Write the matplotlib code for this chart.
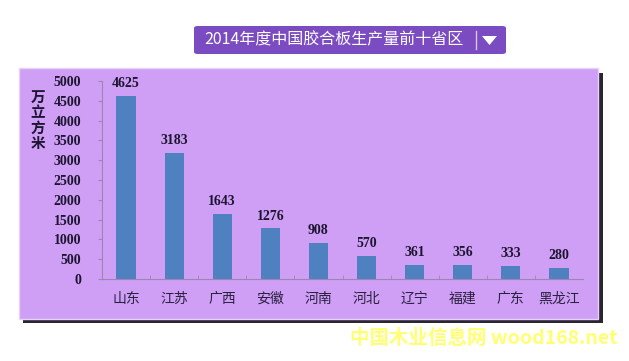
import matplotlib
matplotlib.use("Agg")
import matplotlib.pyplot as plt
from matplotlib.patches import Rectangle, FancyBboxPatch, Polygon

plt.rcParams['font.family'] = ['Noto Sans CJK SC', 'DejaVu Sans']

provinces = ["山东", "江苏", "广西", "安徽", "河南", "河北", "辽宁", "福建", "广东", "黑龙江"]
output = [4625, 3183, 1643, 1276, 908, 570, 361, 356, 333, 280]
yticks = [0, 500, 1000, 1500, 2000, 2500, 3000, 3500, 4000, 4500, 5000]
title = "2014年度中国胶合板生产量前十省区"
ylabel = "万\n立\n方\n米"
watermark = "中国木业信息网 wood168.net"

W, H = 629, 361
fig = plt.figure(figsize=(W / 100, H / 100), dpi=100)
fig.patch.set_facecolor("white")


def fx(px):
    return px / W


def fy(py):
    return 1 - py / H


# purple panel with dark shadow
fig.patches.append(Rectangle((fx(23), fy(323)), fx(580), 250 / H, transform=fig.transFigure,
                             facecolor="#2a2433", edgecolor="none", zorder=0))
fig.patches.append(Rectangle((fx(19), fy(319)), fx(579), 251 / H, transform=fig.transFigure,
                             facecolor="#cf9ff6", edgecolor="#e6d2f7", linewidth=1, zorder=0))

# title box
fig.patches.append(FancyBboxPatch((fx(194), fy(54)), fx(312), 28 / H, transform=fig.transFigure,
                                  boxstyle="round,pad=0,rounding_size=0.006",
                                  facecolor="#7b4cc1", edgecolor="none", zorder=1))
fig.text(fx(334), fy(40), title, color="white", fontsize=11.5, ha="center", va="center")
fig.add_artist(plt.Line2D([fx(476), fx(476)], [fy(31), fy(49)], transform=fig.transFigure,
                          color="#d9c6f0", linewidth=1))
fig.patches.append(Polygon([(fx(482), fy(36)), (fx(497), fy(36)), (fx(489.5), fy(45))],
                           closed=True, transform=fig.transFigure,
                           facecolor="white", edgecolor="none"))

ax = fig.add_axes([fx(102), fy(279), fx(481), 198 / H])
ax.set_zorder(5)
ax.set_facecolor("none")
x = range(len(provinces))
bars = ax.bar(x, output, width=0.4, color="#4f80bf", zorder=2)
for bar, val in zip(bars, output):
    ax.text(bar.get_x() + bar.get_width() / 2, val + 150, str(val), ha="center", va="bottom",
            fontsize=10, fontweight="bold", color="#1c1530", family="Liberation Serif")

ax.set_xlim(-0.5, len(provinces) - 0.5)
ax.set_ylim(0, 5000)
ax.set_yticks(yticks)
ax.set_yticklabels([str(t) for t in yticks], fontsize=10, fontweight="bold",
                   family="Liberation Serif", color="#1c1530")
ax.set_xticks(list(x))
ax.set_xticklabels(provinces, fontsize=10, color="#2a2040", fontweight="light")
ax.tick_params(axis="x", length=0, pad=9)
ax.tick_params(axis="y", length=3, color="#9a86b0", pad=12)
ax.set_xticks([i + 0.5 for i in range(len(provinces) - 1)], minor=True)
ax.tick_params(axis="x", which="minor", length=3, direction="in", color="#9a86b0")
for s in ["top", "right"]:
    ax.spines[s].set_visible(False)
for s in ["left", "bottom"]:
    ax.spines[s].set_color("#9a86b0")
    ax.spines[s].set_linewidth(0.8)

fig.text(fx(38), fy(120), ylabel, fontsize=10.5, ha="center", va="center", fontweight="bold",
         color="#1c1530", linespacing=0.95)

fig.text(fx(618), fy(338), watermark, fontsize=14, fontweight="bold", color="#ffff66",
         ha="right", va="center", alpha=0.9)

fig.savefig("out.png", dpi=100)
